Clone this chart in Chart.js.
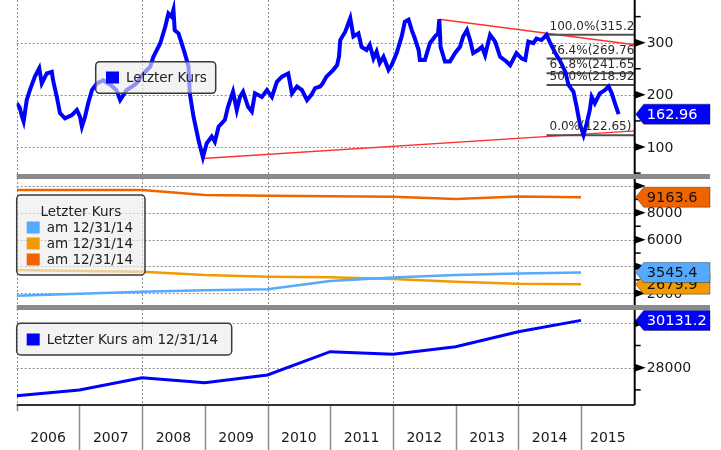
<!DOCTYPE html>
<html>
<head>
<meta charset="utf-8">
<script src="https://cdn.jsdelivr.net/npm/chart.js@4.4.0/dist/chart.umd.min.js"></script>
<style>
    html, body { margin: 0; padding: 0; background: #fff; }
    #wrap { position: relative; width: 721px; height: 450px; overflow: hidden; }
    .panel { position: absolute; left: 0; width: 721px; }
</style>
</head>
<body>
<div id="wrap">
    <div class="panel" style="top:0;height:174px"><canvas id="kursChart"></canvas></div>
    <div class="panel" style="top:174px;height:131px"><canvas id="sektorChart"></canvas></div>
    <div class="panel" style="top:305px;height:145px"><canvas id="bipChart"></canvas></div>
</div>
<script>
const X_MIN = 2006;
const X_MAX = 2015.856;
const SCHRIFT = '"DejaVu Sans", Verdana, sans-serif';

// Panel 1: Letzter Kurs (Zeit in Dezimaljahren)
const kursX = [2006.00, 2006.05, 2006.08, 2006.11, 2006.13, 2006.16, 2006.21, 2006.29, 2006.36, 2006.40,
    2006.48, 2006.56, 2006.58, 2006.64, 2006.69, 2006.77, 2006.88, 2006.96, 2007.01, 2007.04,
    2007.09, 2007.14, 2007.20, 2007.28, 2007.38, 2007.50, 2007.59, 2007.65, 2007.75, 2007.83,
    2007.91, 2008.02, 2008.13, 2008.18, 2008.29, 2008.37, 2008.42, 2008.47, 2008.50, 2008.52,
    2008.58, 2008.63, 2008.68, 2008.74, 2008.76, 2008.82, 2008.90, 2008.97, 2009.03, 2009.11,
    2009.16, 2009.22, 2009.32, 2009.37, 2009.45, 2009.51, 2009.56, 2009.61, 2009.69, 2009.75,
    2009.80, 2009.91, 2009.99, 2010.07, 2010.15, 2010.23, 2010.33, 2010.39, 2010.47, 2010.55,
    2010.63, 2010.70, 2010.76, 2010.84, 2010.88, 2010.94, 2011.05, 2011.11, 2011.14, 2011.16,
    2011.24, 2011.32, 2011.37, 2011.45, 2011.50, 2011.58, 2011.63, 2011.69, 2011.74, 2011.79,
    2011.85, 2011.93, 2011.98, 2012.06, 2012.14, 2012.19, 2012.25, 2012.30, 2012.35, 2012.41,
    2012.43, 2012.51, 2012.59, 2012.67, 2012.72, 2012.74, 2012.76, 2012.83, 2012.91, 2012.99,
    2013.07, 2013.12, 2013.18, 2013.23, 2013.28, 2013.36, 2013.42, 2013.47, 2013.55, 2013.63,
    2013.71, 2013.81, 2013.87, 2013.97, 2014.05, 2014.11, 2014.16, 2014.24, 2014.29, 2014.37,
    2014.45, 2014.51, 2014.59, 2014.67, 2014.75, 2014.80, 2014.88, 2014.93, 2014.98, 2015.04,
    2015.09, 2015.14, 2015.17, 2015.22, 2015.30, 2015.38, 2015.44, 2015.49, 2015.54, 2015.60];
const kursY = [184, 175, 160, 149, 165, 190, 209, 235, 251, 222,
    241, 244, 228, 196, 165, 155, 161, 171, 158, 139,
    158, 184, 209, 222, 228, 219, 209, 190, 209, 215,
    222, 241, 254, 273, 299, 331, 356, 350, 363, 324,
    318, 299, 280, 254, 203, 158, 113, 80, 107, 120,
    110, 139, 152, 177, 206, 171, 196, 206, 177, 168,
    203, 196, 209, 196, 225, 235, 241, 203, 216, 209,
    190, 200, 213, 216, 222, 235, 248, 257, 273, 305,
    321, 347, 312, 318, 292, 286, 296, 270, 283, 261,
    273, 248, 257, 280, 312, 340, 344, 324, 308, 286,
    267, 267, 299, 312, 318, 345, 292, 264, 264, 280,
    292, 312, 324, 305, 280, 286, 292, 276, 315, 302,
    273, 264, 257, 280, 270, 267, 302, 299, 308, 305,
    315, 299, 280, 264, 244, 219, 206, 177, 145, 123,
    145, 171, 196, 184, 203, 209, 216, 203, 184, 162.96];

// Fibonacci-Retracement und Trendlinien
const fibStart = 2014.45;
const fibWerte = [315.2, 269.76, 241.65, 218.92, 122.65];
const fibTexte = ["100.0%(315.20)", "76.4%(269.76)", "61.8%(241.65)", "50.0%(218.92)", "0.0%(122.65)"];
const trendUntenX = [2008.97, X_MAX];
const trendUntenY = [78, 131];
const trendObenX = [2012.74, X_MAX];
const trendObenY = [345, 296];

const kursHaupt = [100, 200, 300];
const kursNeben = [50, 150, 250, 350];

// Panel 2 und 3: Werte am 12/31 (Position = Jahreswechsel)
const stichtagX = [2006, 2007, 2008, 2009, 2010, 2011, 2012, 2013, 2014, 2015];
const hellblauWerte = [1820, 1960, 2120, 2220, 2300, 2920, 3180, 3360, 3470, 3545.4];
const orangeWerte = [3740, 3670, 3610, 3360, 3240, 3190, 3070, 2870, 2720, 2679.9];
const dunkelorangeWerte = [9700, 9700, 9700, 9330, 9280, 9230, 9200, 9030, 9220, 9163.6];
const sektorHaupt = [2000, 4000, 6000, 8000, 10000];
const sektorNeben = [3000, 5000, 7000, 9000];
const sektorBeschriftung = [2000, 6000, 8000];

const bipWerte = [26740, 26995, 27550, 27324, 27671, 28721, 28603, 28946, 29622, 30131.2];
const bipHaupt = [28000, 30000];
const bipNeben = [27000, 29000];
const bipBeschriftung = [28000];

const jahre = ["2006", "2007", "2008", "2009", "2010", "2011", "2012", "2013", "2014", "2015"];
const gitterJahre = [2006, 2008, 2010, 2012, 2014];

const BLAU = "#0000ff";
const HELLBLAU = "#55aaff";
const ORANGE = "#f39a00";
const DUNKELORANGE = "#f06400";

function punkte(xs, ys) {
    return xs.map((x, i) => ({ x: x, y: ys[i] }));
}

function linie(xs, ys, farbe, breite) {
    return {
        data: punkte(xs, ys),
        borderColor: farbe,
        backgroundColor: farbe,
        borderWidth: breite,
        pointRadius: 0,
        tension: 0,
        fill: false,
    };
}

function optionen(yMin, yMax, untenPlatz) {
    return {
        responsive: true,
        maintainAspectRatio: false,
        animation: false,
        devicePixelRatio: 1,
        events: [],
        layout: { padding: { left: 16.7, right: 86.3, top: 0, bottom: untenPlatz } },
        plugins: { legend: { display: false }, tooltip: { enabled: false } },
        scales: {
            x: { type: "linear", display: false, min: X_MIN, max: X_MAX },
            y: { type: "linear", display: false, min: yMin, max: yMax },
        },
    };
}

function zeichneGitter(chart, yWerte) {
    const { ctx, chartArea: a, scales } = chart;
    ctx.save();
    ctx.strokeStyle = "#8c8c8c";
    ctx.lineWidth = 1;
    ctx.setLineDash([2, 2]);
    ctx.beginPath();
    yWerte.forEach((v) => {
        const py = Math.round(scales.y.getPixelForValue(v)) + 0.5;
        ctx.moveTo(a.left, py);
        ctx.lineTo(a.right, py);
    });
    gitterJahre.forEach((v) => {
        const px = Math.round(scales.x.getPixelForValue(v)) + 0.5;
        ctx.moveTo(px, a.top);
        ctx.lineTo(px, a.bottom);
    });
    ctx.stroke();
    ctx.restore();
}

function zeichneAchse(chart, haupt, neben, beschriftet) {
    const { ctx, chartArea: a, scales } = chart;
    ctx.save();
    ctx.strokeStyle = "#000";
    ctx.fillStyle = "#000";
    ctx.lineWidth = 2;
    ctx.beginPath();
    ctx.moveTo(a.right, a.top);
    ctx.lineTo(a.right, a.bottom);
    ctx.stroke();

    ctx.lineWidth = 1.5;
    neben.forEach((v) => {
        const py = scales.y.getPixelForValue(v);
        ctx.beginPath();
        ctx.moveTo(a.right, py);
        ctx.lineTo(a.right + 6, py);
        ctx.stroke();
    });
    haupt.forEach((v) => {
        const py = scales.y.getPixelForValue(v);
        ctx.beginPath();
        ctx.moveTo(a.right, py - 4);
        ctx.lineTo(a.right + 11, py);
        ctx.lineTo(a.right, py + 4);
        ctx.closePath();
        ctx.fill();
    });

    ctx.font = "14px " + SCHRIFT;
    ctx.textBaseline = "middle";
    ctx.fillStyle = "#1a1a1a";
    beschriftet.forEach((v) => {
        ctx.fillText(String(v), a.right + 12, scales.y.getPixelForValue(v) + 1);
    });
    ctx.restore();
}

function zeichneMarke(chart, wert, text, farbe, textFarbe) {
    const { ctx, chartArea: a, scales } = chart;
    const py = scales.y.getPixelForValue(wert);
    const x0 = a.right + 1;
    const x1 = 710;
    const h = 20;
    ctx.save();
    ctx.beginPath();
    ctx.moveTo(x0, py);
    ctx.lineTo(x0 + 8, py - h / 2);
    ctx.lineTo(x1, py - h / 2);
    ctx.lineTo(x1, py + h / 2);
    ctx.lineTo(x0 + 8, py + h / 2);
    ctx.closePath();
    ctx.fillStyle = farbe;
    ctx.fill();
    ctx.strokeStyle = "rgba(0,0,0,0.35)";
    ctx.lineWidth = 1;
    ctx.stroke();
    ctx.fillStyle = textFarbe;
    ctx.font = "14.5px " + SCHRIFT;
    ctx.textBaseline = "middle";
    ctx.fillText(text, a.right + 12, py + 1);
    ctx.restore();
}

function zeichneLegende(ctx, box, titel, eintraege) {
    ctx.save();
    ctx.beginPath();
    if (ctx.roundRect) {
        ctx.roundRect(box.x, box.y, box.w, box.h, 4);
    } else {
        ctx.rect(box.x, box.y, box.w, box.h);
    }
    ctx.fillStyle = "rgba(236,236,236,0.62)";
    ctx.fill();
    ctx.strokeStyle = "#3a3a3a";
    ctx.lineWidth = 1.5;
    ctx.stroke();

    ctx.font = "13.5px " + SCHRIFT;
    ctx.textBaseline = "middle";
    if (titel) {
        ctx.fillStyle = "#222";
        ctx.textAlign = "center";
        ctx.fillText(titel.text, titel.x, titel.y);
        ctx.textAlign = "left";
    }
    eintraege.forEach((e) => {
        ctx.fillStyle = e.farbe;
        ctx.fillRect(e.x, e.y - 6, 13, 12);
        ctx.fillStyle = "#222";
        ctx.fillText(e.text, e.x + 20, e.y + 1);
    });
    ctx.restore();
}

function zeichneTrenner(chart) {
    const { ctx, chartArea: a } = chart;
    ctx.save();
    ctx.fillStyle = "#8a8a8a";
    ctx.fillRect(a.left, 0, 710 - a.left, 5);
    ctx.restore();
}

function zeichneJahresachse(chart) {
    const { ctx, chartArea: a, scales } = chart;
    ctx.save();
    ctx.strokeStyle = "#8c8c8c";
    ctx.lineWidth = 1.5;
    stichtagX.forEach((v, i) => {
        const px = Math.round(scales.x.getPixelForValue(v)) + 0.5;
        ctx.beginPath();
        ctx.moveTo(px, a.bottom);
        ctx.lineTo(px, i === 0 ? a.bottom + 6 : chart.height);
        ctx.stroke();
    });
    ctx.strokeStyle = "#333";
    ctx.lineWidth = 2;
    ctx.beginPath();
    ctx.moveTo(a.left, a.bottom);
    ctx.lineTo(a.right, a.bottom);
    ctx.stroke();

    ctx.font = "14px " + SCHRIFT;
    ctx.fillStyle = "#1a1a1a";
    ctx.textAlign = "center";
    ctx.textBaseline = "middle";
    jahre.forEach((j, i) => {
        const von = stichtagX[i];
        const bis = Math.min(von + 1, X_MAX);
        ctx.fillText(j, scales.x.getPixelForValue((von + bis) / 2), a.bottom + 33);
    });
    ctx.restore();
}

function chartKurs() {
    const datasets = [linie(kursX, kursY, BLAU, 4)];
    fibWerte.forEach((w) => {
        datasets.push(linie([fibStart, X_MAX], [w, w], "#505050", 2));
    });
    datasets.push(linie(trendObenX, trendObenY, "#ff3030", 1.4));
    datasets.push(linie(trendUntenX, trendUntenY, "#ff3030", 1.4));

    const deko = {
        id: "dekoKurs",
        beforeDatasetsDraw(chart) {
            zeichneGitter(chart, kursHaupt);
        },
        afterDatasetsDraw(chart) {
            const { ctx, chartArea: a, scales } = chart;
            ctx.save();
            ctx.beginPath();
            ctx.rect(a.left, a.top, a.right - a.left, a.bottom - a.top);
            ctx.clip();
            ctx.font = "12px " + SCHRIFT;
            ctx.fillStyle = "#2a2a2a";
            ctx.textBaseline = "middle";
            fibWerte.forEach((w, i) => {
                ctx.fillText(fibTexte[i], scales.x.getPixelForValue(fibStart) + 3, scales.y.getPixelForValue(w) - 8);
            });
            ctx.restore();

            zeichneLegende(ctx, { x: 95.7, y: 61.7, w: 120, h: 31.6 }, null, [
                { x: 106, y: 77.5, farbe: BLAU, text: "Letzter Kurs" },
            ]);
            zeichneAchse(chart, kursHaupt, kursNeben, kursHaupt);
            zeichneMarke(chart, kursY[kursY.length - 1], kursY[kursY.length - 1].toFixed(2), BLAU, "#fff");
        },
    };

    new Chart(document.getElementById("kursChart"), {
        type: "line",
        data: { datasets: datasets },
        options: optionen(48.23, 381.88, 0),
        plugins: [deko],
    });
}

function chartSektoren() {
    const datasets = [
        linie(stichtagX, hellblauWerte, HELLBLAU, 2.5),
        linie(stichtagX, orangeWerte, ORANGE, 2.5),
        linie(stichtagX, dunkelorangeWerte, DUNKELORANGE, 2.5),
    ];

    const deko = {
        id: "dekoSektoren",
        beforeDatasetsDraw(chart) {
            zeichneGitter(chart, sektorHaupt);
        },
        afterDatasetsDraw(chart) {
            const letzter = stichtagX.length - 1;
            zeichneLegende(chart.ctx, { x: 16.7, y: 21, w: 128.3, h: 80 }, { text: "Letzter Kurs", x: 80.8, y: 38 }, [
                { x: 26.7, y: 53.5, farbe: HELLBLAU, text: "am 12/31/14" },
                { x: 26.7, y: 69.5, farbe: ORANGE, text: "am 12/31/14" },
                { x: 26.7, y: 85.5, farbe: DUNKELORANGE, text: "am 12/31/14" },
            ]);
            zeichneAchse(chart, sektorHaupt, sektorNeben, sektorBeschriftung);
            zeichneMarke(chart, dunkelorangeWerte[letzter], dunkelorangeWerte[letzter].toFixed(1), DUNKELORANGE, "#111");
            zeichneMarke(chart, orangeWerte[letzter], orangeWerte[letzter].toFixed(1), ORANGE, "#111");
            zeichneMarke(chart, hellblauWerte[letzter], hellblauWerte[letzter].toFixed(1), HELLBLAU, "#111");
            zeichneTrenner(chart);
        },
    };

    new Chart(document.getElementById("sektorChart"), {
        type: "line",
        data: { datasets: datasets },
        options: optionen(1127.4, 10894.7, 0),
        plugins: [deko],
    });
}

function chartBip() {
    const deko = {
        id: "dekoBip",
        beforeDatasetsDraw(chart) {
            zeichneGitter(chart, bipHaupt);
        },
        afterDatasetsDraw(chart) {
            const letzter = bipWerte[bipWerte.length - 1];
            zeichneLegende(chart.ctx, { x: 16.7, y: 18.3, w: 215, h: 31.7 }, null, [
                { x: 26.7, y: 34.5, farbe: BLAU, text: "Letzter Kurs am 12/31/14" },
            ]);
            zeichneAchse(chart, bipHaupt, bipNeben, bipBeschriftung);
            zeichneMarke(chart, letzter, letzter.toFixed(1), BLAU, "#fff");
            zeichneTrenner(chart);
            zeichneJahresachse(chart);
        },
    };

    new Chart(document.getElementById("bipChart"), {
        type: "line",
        data: { datasets: [linie(stichtagX, bipWerte, BLAU, 3)] },
        options: optionen(26319.6, 30824, 45),
        plugins: [deko],
    });
}

function load() {
    chartKurs();
    chartSektoren();
    chartBip();
}

window.onload = load;
</script>
</body>
</html>
